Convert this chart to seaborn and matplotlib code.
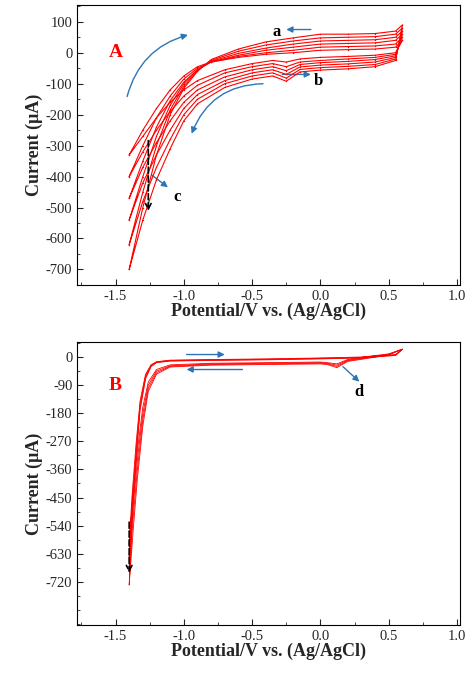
import matplotlib
matplotlib.use("Agg")
import matplotlib.pyplot as plt
import seaborn as sns
import pandas as pd
from matplotlib.patches import FancyArrowPatch
from matplotlib.ticker import AutoMinorLocator

# ---- data ----
# Panel A: anodic (upper) and cathodic (lower) branches of 6 cycles
a_up_pot = [-1.40, -1.30, -1.20, -1.10, -1.00, -0.90, -0.80, -0.60, -0.40, -0.20, 0.00, 0.20, 0.40, 0.55, 0.60]
a_up_cycles = [
    [-330, -250, -180, -120, -75, -45, -30, -15, -5, 0, 8, 10, 12, 18, 40],
    [-400, -300, -210, -140, -85, -50, -30, -12, 0, 8, 18, 20, 22, 28, 50],
    [-470, -350, -240, -155, -95, -55, -30, -8, 8, 18, 28, 30, 32, 40, 60],
    [-540, -400, -270, -170, -100, -55, -28, -2, 15, 28, 38, 40, 42, 50, 70],
    [-620, -450, -300, -185, -108, -58, -25, 5, 25, 38, 48, 50, 52, 60, 80],
    [-700, -500, -330, -200, -115, -60, -22, 12, 35, 48, 60, 60, 62, 70, 90],
]
a_lo_pot = [0.60, 0.55, 0.40, 0.20, 0.00, -0.15, -0.25, -0.35, -0.50, -0.70, -0.90, -1.00, -1.10, -1.20, -1.30, -1.40]
a_lo_cycles = [
    [40, 0, -8, -12, -15, -20, -30, -25, -35, -55, -90, -120, -160, -210, -270, -330],
    [50, -5, -15, -20, -25, -30, -45, -35, -45, -65, -105, -140, -190, -250, -320, -400],
    [60, -10, -22, -28, -32, -38, -58, -45, -55, -78, -120, -160, -220, -290, -370, -470],
    [70, -15, -30, -36, -40, -46, -70, -55, -65, -90, -135, -180, -250, -330, -420, -540],
    [80, -20, -38, -44, -48, -54, -82, -65, -75, -100, -150, -200, -280, -370, -480, -620],
    [90, -25, -45, -52, -56, -62, -92, -75, -85, -112, -165, -220, -310, -410, -540, -700],
]

# Panel B: 4 nearly overlapping cycles
b_up_pot = [-1.40, -1.38, -1.35, -1.32, -1.28, -1.24, -1.20, -1.10, -0.80, -0.40, 0.00, 0.30, 0.55, 0.60]
b_up_cycles = [
    [-600, -450, -280, -140, -55, -25, -15, -10, -8, -6, -3, 0, 8, 25],
    [-640, -480, -300, -150, -60, -27, -16, -11, -9, -7, -4, -1, 7, 25],
    [-680, -510, -320, -160, -65, -29, -17, -12, -10, -8, -5, -2, 6, 25],
    [-730, -540, -340, -170, -70, -31, -18, -13, -11, -9, -6, -3, 5, 25],
]
b_lo_pot = [0.60, 0.50, 0.35, 0.20, 0.12, 0.05, 0.00, -0.40, -0.80, -1.10, -1.20, -1.26, -1.30, -1.34, -1.37, -1.40]
b_lo_cycles = [
    [25, 10, 2, -8, -22, -18, -16, -18, -20, -25, -40, -80, -160, -300, -430, -600],
    [25, 9, 0, -10, -26, -20, -18, -20, -22, -28, -45, -90, -180, -330, -470, -640],
    [25, 8, -2, -12, -30, -22, -20, -22, -24, -30, -50, -100, -200, -360, -510, -680],
    [25, 7, -4, -14, -34, -24, -22, -24, -26, -32, -55, -110, -220, -390, -550, -730],
]

SERIF = ["Liberation Serif", "DejaVu Serif"]


def cycles_to_df(up_pot, up_cycles, lo_pot, lo_cycles):
    rows = []
    for i, (up, lo) in enumerate(zip(up_cycles, lo_cycles)):
        order = 0
        for p, c in zip(up, up_pot):
            rows.append({"cycle": i, "order": order, "potential": c, "current": p})
            order += 1
        for p, c in zip(lo, lo_pot):
            rows.append({"cycle": i, "order": order, "potential": c, "current": p})
            order += 1
    return pd.DataFrame(rows)


def style_axis(ax, ylim, yticks):
    ax.set_xlim(-1.78, 1.02)
    ax.set_ylim(*ylim)
    ax.set_xticks([-1.5, -1.0, -0.5, 0.0, 0.5, 1.0])
    ax.set_yticks(yticks)
    ax.xaxis.set_minor_locator(AutoMinorLocator(2))
    ax.yaxis.set_minor_locator(AutoMinorLocator(2))
    ax.tick_params(which="both", direction="in", top=False, right=False)
    ax.tick_params(which="major", length=4, labelsize=10.5)
    ax.tick_params(which="minor", length=2)
    for lab in ax.get_xticklabels() + ax.get_yticklabels():
        lab.set_family(SERIF)
    ax.set_xlabel("Potential/V vs. (Ag/AgCl)", family=SERIF, fontweight="bold", fontsize=13, labelpad=0)
    ax.set_ylabel("Current (μA)", family=SERIF, fontweight="bold", fontsize=13, labelpad=2)
    for s in ax.spines.values():
        s.set_linewidth(0.8)
        s.set_color("black")


def blue_arrow(ax, start, end, rad=0.0):
    ax.add_patch(FancyArrowPatch(start, end, arrowstyle="-|>", mutation_scale=9,
                                 color="#2e75b6", lw=1.0,
                                 connectionstyle=f"arc3,rad={rad}"))


def label(ax, x, y, s, color="black", size=12):
    ax.text(x, y, s, family=SERIF, fontweight="bold", fontsize=size, color=color)


sns.set_style("ticks")
plt.rcParams["axes.unicode_minus"] = False
fig = plt.figure(figsize=(4.74, 6.8), dpi=100)
axA = fig.add_axes([0.163, 0.581, 0.807, 0.412])
axB = fig.add_axes([0.163, 0.081, 0.807, 0.416])

dfA = cycles_to_df(a_up_pot, a_up_cycles, a_lo_pot, a_lo_cycles)
dfB = cycles_to_df(b_up_pot, b_up_cycles, b_lo_pot, b_lo_cycles)

sns.lineplot(data=dfA, x="potential", y="current", units="cycle", estimator=None,
             sort=False, color="red", lw=0.8, marker=".", markersize=2,
             markeredgewidth=0, ax=axA)
sns.lineplot(data=dfB, x="potential", y="current", units="cycle", estimator=None,
             sort=False, color="red", lw=0.6, ax=axB)

style_axis(axA, (-750, 155), list(range(100, -701, -100)))
style_axis(axB, (-858, 48), list(range(0, -721, -90)))

# Panel A annotations
label(axA, -1.55, -15, "A", color="red", size=14)
blue_arrow(axA, (-1.42, -150), (-0.95, 60), rad=-0.3)
blue_arrow(axA, (-0.4, -100), (-0.95, -270), rad=0.35)
blue_arrow(axA, (-0.05, 75), (-0.27, 75))
label(axA, -0.35, 55, "a")
blue_arrow(axA, (-0.3, -70), (-0.05, -70))
label(axA, -0.05, -105, "b")
blue_arrow(axA, (-1.25, -390), (-1.1, -440))
label(axA, -1.08, -480, "c")
axA.annotate("", xy=(-1.26, -520), xytext=(-1.26, -275),
             arrowprops=dict(arrowstyle="->", ls="--", color="black", lw=1.2))

# Panel B annotations
label(axB, -1.55, -105, "B", color="red", size=14)
blue_arrow(axB, (-1.0, 8), (-0.68, 8))
blue_arrow(axB, (-0.55, -40), (-1.0, -40))
blue_arrow(axB, (0.15, -25), (0.3, -85))
label(axB, 0.25, -125, "d")
axB.annotate("", xy=(-1.4, -700), xytext=(-1.4, -520),
             arrowprops=dict(arrowstyle="->", ls="--", color="black", lw=1.2))

fig.savefig("out.png", dpi=100)
